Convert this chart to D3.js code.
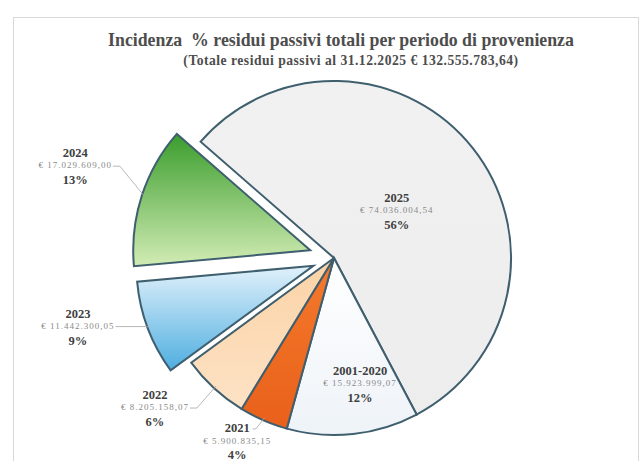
<!DOCTYPE html>
<html>
<head>
<meta charset="utf-8">
<script src="https://cdn.jsdelivr.net/npm/d3@7"></script>
<style>
  html, body { margin: 0; padding: 0; background: #fff; }
  svg { display: block; }
  text { font-family: "Liberation Serif", "DejaVu Serif", serif; }
</style>
</head>
<body>
<svg id="chart" width="642" height="461"></svg>
<script>
// ---- data ----
const categories = ["2025", "2001-2020", "2021", "2022", "2023", "2024"];
const values = [74036004.54, 15941876.83, 5900835.15, 8205158.07, 11442300.05, 17029609.00];
const valueLabels = ["€ 74.036.004,54", "€ 15.923.999,07", "€ 5.900.835,15", "€ 8.205.158,07", "€ 11.442.300,05", "€ 17.029.609,00"];
const percentLabels = ["56%", "12%", "4%", "6%", "9%", "13%"];
const titleText = "Incidenza  % residui passivi totali per periodo di provenienza";
const subtitleText = "(Totale residui passivi al 31.12.2025 € 132.555.783,64)";

// ---- layout / style ----
const cx = 334, cy = 258, R = 177;
const startDeg = -48.9;
const explode = { "2024": 25, "2023": 22 };
const gradients = {
  "2025": ["#f1f1f1", "#ededed"],
  "2001-2020": ["#ffffff", "#eef3f8"],
  "2021": ["#f47a2c", "#e9601a"],
  "2022": ["#fbd3a6", "#fde2c5"],
  "2023": ["#e2f1fb", "#4eaee0"],
  "2024": ["#3a9d2d", "#d2ecb4"]
};
// label placement: angle offset from slice bisector (deg), radius from pie center, leader type
const labelCfg = {
  "2025": { dAng: 1.05, r: 79, leader: null },
  "2001-2020": { dAng: -5.6, r: 127.7, leader: null },
  "2021": { dAng: 4.4, r: 207, leader: "year" },
  "2022": { dAng: 7.6, r: 233, leader: "elbow" },
  "2023": { dAng: 5.8, r: 265, leader: "flat" },
  "2024": { dAng: 1.75, r: 275, leader: "elbow" }
};

const svg = d3.select("#chart");
const defs = svg.append("defs");
categories.forEach((c, i) => {
  const g = defs.append("linearGradient").attr("id", "grad" + i)
    .attr("x1", 0).attr("y1", 0).attr("x2", 0).attr("y2", 1);
  g.append("stop").attr("offset", "0%").attr("stop-color", gradients[c][0]);
  g.append("stop").attr("offset", "100%").attr("stop-color", gradients[c][1]);
});

// chart frame
svg.append("rect").attr("x", 13.5).attr("y", 17.5).attr("width", 625).attr("height", 460)
  .attr("fill", "#fff").attr("stroke", "#d9d9d9").attr("stroke-width", 1);

// titles
svg.append("text").attr("x", 341).attr("y", 46).attr("text-anchor", "middle")
  .attr("font-size", 17.8).attr("font-weight", "bold").attr("fill", "#4d4d4d")
  .attr("xml:space", "preserve").style("white-space", "pre").text(titleText);
svg.append("text").attr("x", 351).attr("y", 65).attr("text-anchor", "middle")
  .attr("font-size", 13.6).attr("font-weight", "bold").attr("fill", "#4d4d4d")
  .attr("letter-spacing", 0.5).text(subtitleText);

const toRad = d => d * Math.PI / 180;
const pie = d3.pie().sort(null).value(d => d.v)
  .startAngle(toRad(startDeg)).endAngle(toRad(startDeg + 360));
const data = categories.map((c, i) => ({ c, v: values[i], i }));
const arcs = pie(data);
const arc = d3.arc().innerRadius(0).outerRadius(R);

const pieG = svg.append("g").attr("transform", `translate(${cx},${cy})`);
arcs.forEach(a => {
  const mid = (a.startAngle + a.endAngle) / 2;
  const off = explode[a.data.c] || 0;
  const ox = Math.sin(mid) * off, oy = -Math.cos(mid) * off;
  pieG.append("path").attr("d", arc(a))
    .attr("transform", `translate(${ox},${oy})`)
    .attr("fill", `url(#grad${a.data.i})`)
    .attr("stroke", "#3f5f6e").attr("stroke-width", 2).attr("stroke-linejoin", "miter");
});

// labels
const labG = svg.append("g");
arcs.forEach(a => {
  const c = a.data.c, cfg = labelCfg[c];
  const mid = (a.startAngle + a.endAngle) / 2;
  const ang = mid + toRad(cfg.dAng);
  const lx = cx + Math.sin(ang) * cfg.r, ly = cy - Math.cos(ang) * cfg.r;
  const g = labG.append("g").attr("transform", `translate(${lx},${ly})`);
  const yearT = g.append("text").attr("y", -8.5).attr("text-anchor", "middle")
    .attr("font-size", 12.5).attr("font-weight", "bold").attr("fill", "#404040").text(c);
  const valT = g.append("text").attr("y", 3).attr("text-anchor", "middle")
    .attr("font-size", 9).attr("fill", "#8a8a8a").attr("letter-spacing", 1).text(valueLabels[a.data.i]);
  g.append("text").attr("y", 18.5).attr("text-anchor", "middle")
    .attr("font-size", 12.5).attr("font-weight", "bold").attr("fill", "#404040").text(percentLabels[a.data.i]);

  if (cfg.leader) {
    const off = explode[c] || 0;
    const ex = cx + Math.sin(mid) * off, ey = cy - Math.cos(mid) * off;
    const tx = ex + Math.sin(mid) * (R - 3), ty = ey - Math.cos(mid) * (R - 3);
    let pts;
    if (cfg.leader === "flat") {
      const vw = valT.node().getComputedTextLength();
      const sx = lx + vw / 2 + 1, sy = ly + 0.5;
      const dy = sy - ey;
      const hx = ex - Math.sqrt(Math.max(0, (R - 2) * (R - 2) - dy * dy));
      pts = [[sx, sy], [hx, sy]];
    } else if (cfg.leader === "elbow") {
      const vw = valT.node().getComputedTextLength();
      const sx = lx + vw / 2 + 1, sy = ly + 1;
      pts = [[sx, sy], [sx + 7, sy], [tx, ty]];
    } else {
      const yw = yearT.node().getComputedTextLength();
      const sx = lx + yw / 2 + 3, sy = ly - 12;
      pts = [[sx, sy], [sx + 3, sy], [tx, ty]];
    }
    labG.append("path").attr("d", d3.line()(pts))
      .attr("fill", "none").attr("stroke", "#a6a6a6").attr("stroke-width", 0.8);
  }
});
</script>
</body>
</html>
